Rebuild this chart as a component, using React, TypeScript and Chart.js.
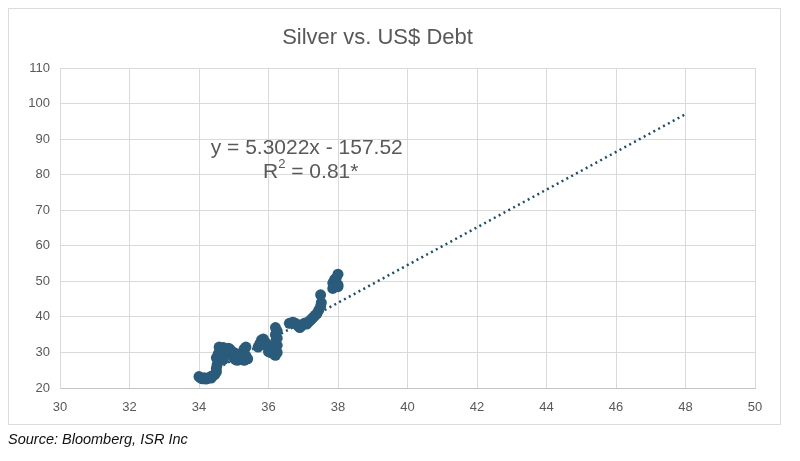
import React, { useEffect, useRef } from "react";
import { Chart, registerables } from "chart.js";

Chart.register(...registerables);

const TITLE = "Silver vs. US$ Debt";
const SOURCE = "Source: Bloomberg, ISR Inc";
const EQUATION = "y = 5.3022x - 157.52";
const R2_LABEL = "R";
const R2_VALUE = " = 0.81*";

// Debt (US$ tn) on x, silver price on y
const debtX = [
  34.0, 34.05, 34.1, 34.15, 34.2, 34.25, 34.3, 34.35, 34.4, 34.45, 34.5,
  34.5, 34.52, 34.55, 34.5, 34.55, 34.6, 34.58, 34.65, 34.7,
  34.75, 34.8, 34.85, 34.9, 34.95, 35.0, 35.05, 35.1, 35.0, 35.1, 35.15, 35.2, 35.25, 35.3, 35.35, 35.35, 35.4, 35.3, 34.7, 34.9,
  35.7, 35.75, 35.8, 35.85, 35.9, 35.95, 36.0, 36.05, 36.1, 36.05, 36.15, 36.2, 36.25, 36.2, 36.25, 36.2, 36.25, 36.2, 36.25, 36.2, 35.8, 36.0,
  36.6, 36.7, 36.75, 36.8, 36.85, 36.9, 36.95, 37.0, 37.05, 37.1, 37.15, 37.2, 37.25, 37.3, 37.35, 37.4, 37.45, 37.5, 37.52, 37.5,
  37.85, 37.9, 37.85, 37.9, 38.0, 37.95, 38.0, 38.0,
];
const silverY = [
  23.2, 22.8, 22.6, 22.9, 22.5, 22.7, 23.0, 22.8, 23.4, 23.8, 24.5,
  25.5, 26.5, 27.5, 28.5, 29.5, 30.5, 31.5, 29.0, 28.0,
  29.5, 30.5, 31.2, 30.8, 29.5, 28.5, 28.0, 27.8, 30.0, 29.5, 28.5, 29.0, 30.0, 31.0, 31.5, 29.0, 28.2, 27.8, 31.4, 29.8,
  31.5, 32.5, 33.5, 33.8, 33.0, 32.0, 31.5, 31.0, 30.5, 30.0, 29.5, 29.2, 30.0, 31.0, 32.0, 33.0, 34.0, 35.0, 36.0, 37.0, 32.2, 30.2,
  38.2, 38.5, 38.3, 38.0, 37.5, 37.0, 37.5, 38.0, 38.3, 38.0, 38.5, 39.0, 39.5, 40.0, 40.5, 41.0, 42.0, 43.0, 44.0, 46.2,
  48.0, 48.5, 49.5, 50.5, 52.0, 51.0, 49.0, 48.5,
];

// Linear trendline endpoints
const trendX = [34, 48];
const trendY = [22.75, 97.0];

// Axis tick ranges
const xTicks = [30, 32, 34, 36, 38, 40, 42, 44, 46, 48, 50];
const yTicks = [20, 30, 40, 50, 60, 70, 80, 90, 100, 110];

const POINT_COLOR = "#2B5B7B";
const TREND_COLOR = "#1F4E63";
const TEXT_COLOR = "#595959";
const GRID_COLOR = "#d9d9d9";
const FONT = "'Liberation Sans', Arial, sans-serif";

export default function App() {
  const canvasRef = useRef<HTMLCanvasElement | null>(null);

  useEffect(() => {
    if (!canvasRef.current) return;

    const annotationPlugin = {
      id: "trendAnnotation",
      afterDatasetsDraw(chart: any) {
        const { ctx, scales } = chart;
        const cx = scales.x.getPixelForValue(37.1);
        const y1 = scales.y.getPixelForValue(87.4);
        const y2 = scales.y.getPixelForValue(80.6);
        ctx.save();
        ctx.fillStyle = TEXT_COLOR;
        ctx.textAlign = "center";
        ctx.textBaseline = "middle";
        ctx.font = `21px ${FONT}`;
        ctx.fillText(EQUATION, cx, y1);
        // R² line
        const wR = ctx.measureText(R2_LABEL).width;
        const wV = ctx.measureText(R2_VALUE).width;
        ctx.font = `13px ${FONT}`;
        const wS = ctx.measureText("2").width;
        const total = wR + wS + wV;
        const x0 = cx + 4 - total / 2;
        ctx.textAlign = "left";
        ctx.font = `21px ${FONT}`;
        ctx.fillText(R2_LABEL, x0, y2);
        ctx.font = `13px ${FONT}`;
        ctx.fillText("2", x0 + wR, y2 - 8);
        ctx.font = `21px ${FONT}`;
        ctx.fillText(R2_VALUE, x0 + wR + wS, y2);
        ctx.restore();
      },
    };

    const chart = new Chart(canvasRef.current, {
      type: "scatter",
      data: {
        datasets: [
          {
            type: "line",
            label: "Trend",
            data: trendX.map((x, i) => ({ x, y: trendY[i] })),
            borderColor: TREND_COLOR,
            borderWidth: 2.5,
            borderDash: [2, 3.5],
            pointRadius: 0,
            fill: false,
            order: 2,
          } as any,
          {
            label: "Silver",
            data: debtX.map((x, i) => ({ x, y: silverY[i] })),
            backgroundColor: POINT_COLOR,
            borderColor: POINT_COLOR,
            borderWidth: 0,
            pointRadius: 5.5,
            order: 1,
          },
        ],
      },
      options: {
        animation: false,
        responsive: false,
        maintainAspectRatio: false,
        layout: { padding: { left: 0, right: 45, top: 0, bottom: 43 } },
        plugins: {
          legend: { display: false },
          tooltip: { enabled: false },
          title: {
            display: true,
            text: TITLE,
            color: TEXT_COLOR,
            font: { family: FONT, size: 22, weight: "normal" },
            padding: { top: 25, bottom: 16.6 },
          },
        },
        scales: {
          x: {
            type: "linear",
            min: xTicks[0],
            max: xTicks[xTicks.length - 1],
            afterBuildTicks: (s: any) => {
              s.ticks = xTicks.map((v) => ({ value: v }));
            },
            afterFit: (s: any) => {
              s.height = 30;
            },
            ticks: {
              color: TEXT_COLOR,
              font: { family: FONT, size: 13 },
              padding: 12,
              maxRotation: 0,
            },
            grid: { color: GRID_COLOR, lineWidth: 1, drawTicks: false },
            border: { color: "#c4c4c4", width: 1 },
          },
          y: {
            type: "linear",
            min: yTicks[0],
            max: yTicks[yTicks.length - 1],
            afterBuildTicks: (s: any) => {
              s.ticks = yTicks.map((v) => ({ value: v }));
            },
            afterFit: (s: any) => {
              s.width = 60;
            },
            ticks: {
              color: TEXT_COLOR,
              font: { family: FONT, size: 13 },
              padding: 10,
            },
            grid: { color: GRID_COLOR, lineWidth: 1, drawTicks: false },
            border: { color: GRID_COLOR, width: 1 },
          },
        },
      },
      plugins: [annotationPlugin],
    });

    return () => chart.destroy();
  }, []);

  return (
    <div
      style={{
        position: "fixed",
        left: 0,
        top: 0,
        width: 800,
        height: 461,
        background: "#ffffff",
        overflow: "hidden",
      }}
    >
      <div
        style={{
          position: "absolute",
          left: 8,
          top: 8,
          width: 773,
          height: 417,
          border: "1px solid #dcdcdc",
          boxSizing: "border-box",
        }}
      />
      <canvas
        ref={canvasRef}
        width={800}
        height={461}
        style={{ position: "absolute", left: 0, top: 0, width: 800, height: 461 }}
      />
      <div
        style={{
          position: "absolute",
          left: 8,
          top: 431,
          fontFamily: FONT,
          fontStyle: "italic",
          fontSize: 14.5,
          color: "#111111",
          whiteSpace: "nowrap",
        }}
      >
        {SOURCE}
      </div>
    </div>
  );
}
